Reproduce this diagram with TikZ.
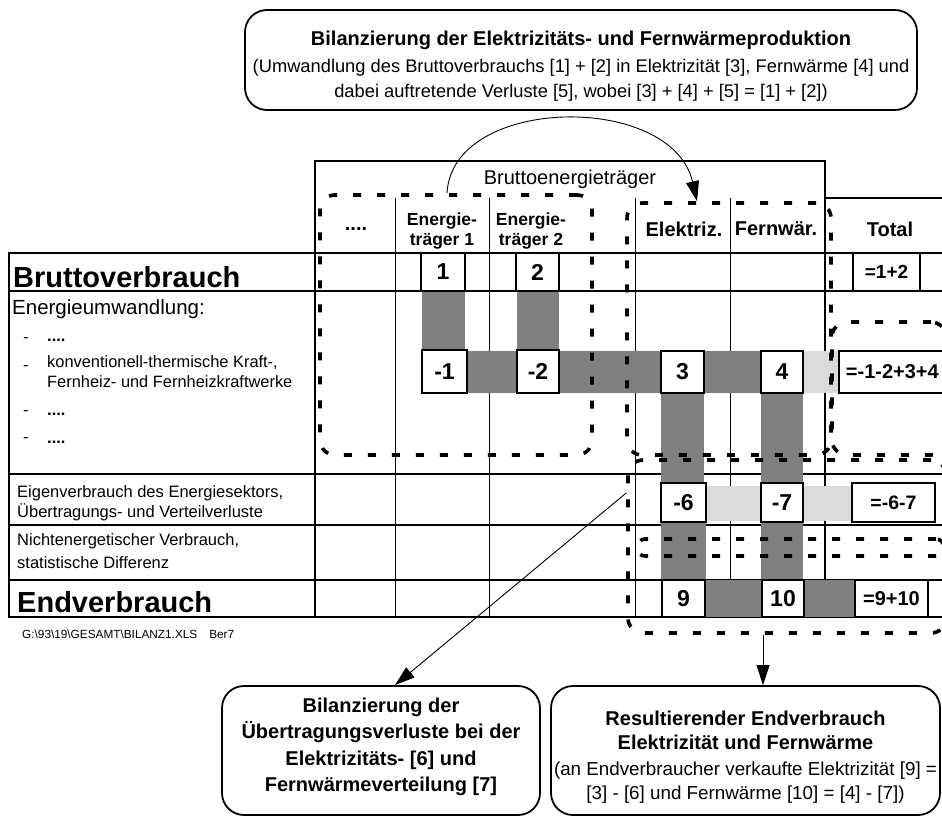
\documentclass[tikz,border=0pt]{standalone}
\usepackage{fontspec}
\setmainfont{Liberation Sans}
\usetikzlibrary{arrows.meta}
\newcommand{\fsz}[2]{\fontsize{#1}{#2}\selectfont}
\tikzset{
  gthick/.style={line width=2.8pt, line cap=rect},
  gmid/.style={line width=2pt, line cap=rect},
  gthin/.style={line width=0.9pt},
  darkbar/.style={fill=black!50},
  lightbar/.style={fill=black!14},
  valbox/.style={draw, line width=1.8pt, fill=white, inner sep=0pt, font=\bfseries\fsz{23}{26}},
  cellbox/.style={draw, line width=1.2pt, fill=white, inner sep=0pt, font=\bfseries\fsz{23}{26}},
  dashbox/.style={draw, line width=3.6pt, dash pattern=on 8pt off 16pt, rounded corners=15pt, inner sep=0pt},
  callout/.style={draw, line width=1.8pt, rounded corners=22pt, inner sep=0pt},
  hdr/.style={font=\bfseries\fsz{20}{24}, align=center, inner sep=0pt},
  lbl/.style={anchor=base west, inner sep=0pt},
  link/.style={line width=0.9pt, -{Triangle[length=20pt,width=13pt]}},
}
\begin{document}
\begin{tikzpicture}[x=1pt,y=-1pt]
\useasboundingbox (0,0) rectangle (942,819);
% ---------- top callout
\node[callout, minimum width=672pt, minimum height=100pt] (topbox) at (581,60) {};
\node[align=center, inner sep=0pt, font=\fsz{18.3}{24.5}] (toptext) at (581,66)
  {{\bfseries\fsz{20}{24}Bilanzierung der Elektrizitäts- und Fernwärmeproduktion}\\[2.5pt]
   (Umwandlung des Bruttoverbrauchs [1] + [2] in Elektrizität [3], Fernwärme [4] und\\
   dabei auftretende Verluste [5], wobei [3] + [4] + [5] = [1] + [2])};
% ---------- grid
\draw[gthick] (315,161) -- (825,161);
\draw[gthick] (825,198) -- (942,198);
\draw[gthick] (9,253) -- (942,253);
\draw[gmid] (9,291) -- (942,291);
\draw[gmid] (9,474) -- (942,474);
\draw[gmid] (9,525) -- (942,525);
\draw[gthick] (9,580) -- (942,580);
\draw[gthick] (9,617) -- (942,617);
\draw[gthick] (9,253) -- (9,617);
\draw[gthick] (315,161) -- (315,617);
\draw[gthin] (395,198) -- (395,617);
\draw[gthin] (489,198) -- (489,617);
\draw[gthin] (635,198) -- (635,617);
\draw[gthin] (730,198) -- (730,617);
\draw[gthick] (825,161) -- (825,580);
\draw[gthin] (928,580) -- (928,617);
% ---------- flow bars
\fill[darkbar] (422,291) rectangle (465,351);
\fill[darkbar] (517,291) rectangle (559,351);
\fill[darkbar] (466,351) rectangle (662,393);
\fill[darkbar] (703,351) rectangle (762,393);
\fill[lightbar] (802,351) rectangle (839,393);
\fill[darkbar] (661,392) rectangle (704,484);
\fill[darkbar] (761,392) rectangle (803,484);
\fill[lightbar] (705,486) rectangle (762,521);
\fill[lightbar] (802,486) rectangle (853,521);
\fill[darkbar] (661,521) rectangle (706,580);
\fill[darkbar] (761,521) rectangle (803,580);
\fill[darkbar] (705,580) rectangle (762,617);
\fill[darkbar] (804,580) rectangle (855,617);
% ---------- value boxes
\node[cellbox, minimum width=44pt, minimum height=38pt] (v1) at (443,272) {1};
\node[cellbox, minimum width=43pt, minimum height=38pt] (v2) at (537.5,272) {2};
\node[cellbox, minimum width=67pt, minimum height=38pt, font=\bfseries\fsz{19}{22}] (vt12) at (886.5,272) {=1+2};
\node[valbox, minimum width=45pt, minimum height=43pt] (vm1) at (444.5,371.5) {-1};
\node[valbox, minimum width=42pt, minimum height=43pt] (vm2) at (538,371.5) {-2};
\node[valbox, minimum width=43pt, minimum height=42pt] (v3) at (682.5,372) {3};
\node[valbox, minimum width=42pt, minimum height=42pt] (v4) at (782,372) {4};
\node[valbox, anchor=west, text width=106pt, inner xsep=7pt, align=left, minimum height=42pt, font=\bfseries\fsz{20}{23}] (vtA) at (838,372) {=-1-2+3+4};
\node[valbox, minimum width=45pt, minimum height=39pt] (v6) at (683.5,502.5) {-6};
\node[valbox, minimum width=42pt, minimum height=39pt] (v7) at (782,502.5) {-7};
\node[valbox, minimum width=83pt, minimum height=39pt, font=\bfseries\fsz{19.5}{22}] (vt67) at (893.5,502.5) {=-6-7};
\node[cellbox, minimum width=43pt, minimum height=37pt] (v9) at (683.5,598.5) {9};
\node[cellbox, minimum width=42pt, minimum height=37pt] (v10) at (783,598.5) {10};
\node[cellbox, minimum width=73pt, minimum height=37pt, font=\bfseries\fsz{20}{23}] (vt910) at (891.5,598.5) {=9+10};
% ---------- dashed groupings
\node[dashbox, minimum width=272pt, minimum height=260pt] (boxA) at (456,325) {};
\node[dashbox, minimum width=204pt, minimum height=252pt] (boxB) at (729,329) {};
\node[dashbox, minimum width=114pt, minimum height=133pt] (boxC) at (889,388.5) {};
\node[dashbox, rounded corners=8pt, minimum width=307pt, minimum height=17pt] (boxD) at (790.5,547.5) {};
\node[dashbox, minimum width=318pt, minimum height=173pt] (boxE) at (787,546.5) {};
% ---------- headers
\node[font=\fsz{20}{24}, inner sep=0pt] (hBrutto) at (570,179) {Bruttoenergieträger};
\node[hdr] (hDots) at (356,229) {....};
\node[hdr, font=\bfseries\fsz{17.5}{20}] (hET1) at (442,231) {Energie-\\träger 1};
\node[hdr, font=\bfseries\fsz{17.5}{20}] (hET2) at (531,231) {Energie-\\träger 2};
\node[hdr] (hEl) at (684,229) {Elektriz.};
\node[hdr] (hFw) at (776,229) {Fernwär.};
\node[hdr] (hTot) at (890,229) {Total};
% ---------- row labels
\node[lbl, font=\bfseries\fsz{29}{32}] (rBrutto) at (13,287) {Bruttoverbrauch};
\node[lbl, font=\fsz{20.5}{24}] (rUmw) at (12,314) {Energieumwandlung:};
\node[lbl, font=\fsz{16.4}{20}] (d1) at (23,342) {-};
\node[lbl, font=\bfseries\fsz{16.4}{20}] (t1) at (47,341) {....};
\node[lbl, font=\fsz{16.4}{20}] (d2) at (23,370) {-};
\node[lbl, font=\fsz{16.4}{20}] (t2a) at (47,367) {konventionell-thermische Kraft-,};
\node[lbl, font=\fsz{16.4}{20}] (t2b) at (47,387) {Fernheiz- und Fernheizkraftwerke};
\node[lbl, font=\fsz{16.4}{20}] (d3) at (23,415) {-};
\node[lbl, font=\bfseries\fsz{16.4}{20}] (t3) at (47,415) {....};
\node[lbl, font=\fsz{16.4}{20}] (d4) at (23,442) {-};
\node[lbl, font=\bfseries\fsz{16.4}{20}] (t4) at (47,443) {....};
\node[lbl, font=\fsz{16.5}{20}] (rEig1) at (17,497) {Eigenverbrauch des Energiesektors,};
\node[lbl, font=\fsz{16.5}{20}] (rEig2) at (17,517) {Übertragungs- und Verteilverluste};
\node[lbl, font=\fsz{16.5}{20}] (rNich1) at (17,545) {Nichtenergetischer Verbrauch,};
\node[lbl, font=\fsz{16.5}{20}] (rNich2) at (17,568) {statistische Differenz};
\node[lbl, font=\bfseries\fsz{29}{32}] (rEnd) at (17,612) {Endverbrauch};
\node[lbl, font=\fsz{11.8}{14}] (footer) at (22,638) {G:\textbackslash 93\textbackslash 19\textbackslash GESAMT\textbackslash BILANZ1.XLS\hspace{12pt}Ber7};
% ---------- bottom callouts
\node[callout, minimum width=318pt, minimum height=129pt] (callL) at (381,750.5) {};
\node[align=center, inner sep=0pt, font=\bfseries\fsz{20}{26.5}] (callLtxt) at (381,747)
  {Bilanzierung der\\Übertragungsverluste bei der\\Elektrizitäts- [6] und\\Fernwärmeverteilung [7]};
\node[callout, minimum width=389pt, minimum height=129pt] (callR) at (745.5,750.5) {};
\node[align=center, inner sep=0pt, font=\fsz{18.8}{24}] (callRtxt) at (745.5,757)
  {{\bfseries\fsz{20}{25}Resultierender Endverbrauch}\\
   {\bfseries\fsz{20}{25}Elektrizität und Fernwärme}\\[2pt]
   (an Endverbraucher verkaufte Elektrizität [9] =\\
   \relax{}[3] - [6] und Fernwärme [10] = [4] - [7])};
% ---------- connectors
\draw[link] ([xshift=-9pt]boxA.north) .. controls (452,95) and (672,92) .. ([xshift=-32pt]boxB.north);
\draw[link] ([yshift=53.5pt]boxE.west) -- ([xshift=14pt]callL.north);
\draw[link] ([xshift=-24pt]boxE.south) -- ([xshift=-24pt]boxE.south |- callR.north);
\end{tikzpicture}
\end{document}
